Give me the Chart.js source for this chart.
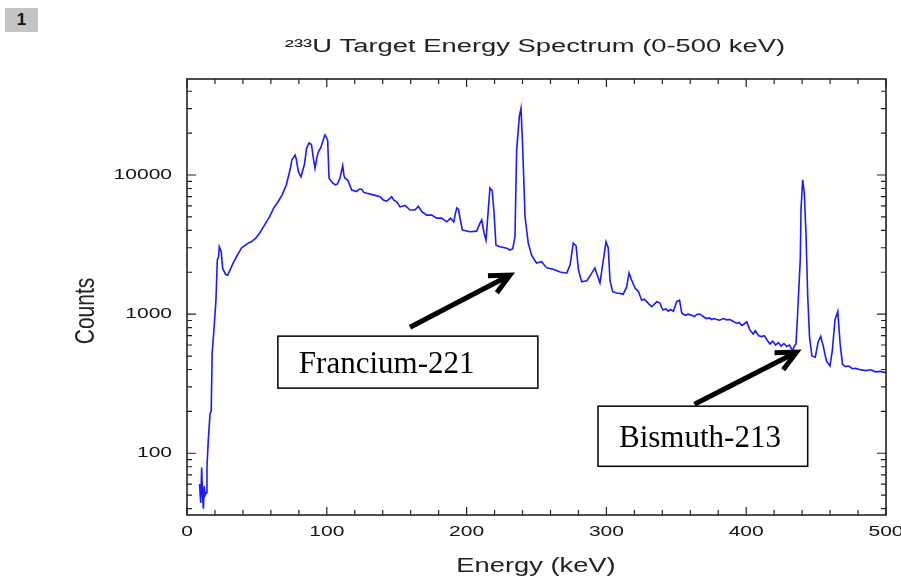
<!DOCTYPE html>
<html>
<head>
<meta charset="utf-8">
<script src="https://cdn.jsdelivr.net/npm/chart.js@4.4.1/dist/chart.umd.min.js"></script>
<style>
    body { margin: 0; background: #fff; }
    #wrap { position: relative; width: 901px; height: 577px; }
    #badge {
        position: absolute; left: 5px; top: 8px; width: 33px; height: 24px;
        background: #c4c4c4; color: #111; font: bold 17px "Liberation Sans", Arial, sans-serif;
        text-align: center; line-height: 24px;
    }
</style>
</head>
<body>
<div id="wrap">
    <canvas id="spectrum" width="901" height="577"></canvas>
    <div id="badge">1</div>
</div>
<script>
// energy (keV) and counts
const energyKeV = [
    9, 9.8, 10.5, 11.2, 11.7, 12.3, 13, 13.8, 14.3, 15.3, 16.5, 17.3, 18, 19.5, 20.7, 21.7, 22.6, 23.1, 24, 24.5,
    25.5, 27.5, 29, 31, 33, 36, 39, 42, 44, 46, 49, 52, 56, 59, 62, 65, 68, 71, 73.7, 75,
    77.3, 78.2, 79.6, 81.5, 84, 85.5, 87.3, 89, 90.5, 91.6, 93, 94, 95.8, 97.5, 98.7, 100.6, 101.6, 104, 106, 107.5,
    109.4, 111.4, 112.2, 113, 115, 117.8, 121.4, 123, 125, 126.5, 128.6, 133.3, 138, 140.4, 142.5, 144, 146.4, 148, 150, 152.4,
    156, 159.5, 163, 165.5, 168, 171.5, 175, 178.6, 182, 185.8, 188.6, 190.8, 192, 193, 194.2, 195.5, 197, 202.4, 207.2, 209.6,
    210.8, 212.5, 213.9, 215.5, 216.7, 218.3, 219.5, 221, 223.9, 228.7, 231, 233, 234.6, 235.8, 237.7, 238.9, 240, 241.8, 244.1, 246.5,
    250, 253.6, 257.3, 262, 266.8, 271.6, 274, 276.3, 278.3, 280, 282.3, 286, 289.5, 291.8, 293, 295.4, 297.8, 299.7, 301.3, 302.6,
    304.5, 307.3, 309.7, 312, 314.5, 316.2, 318, 320.5, 323, 325.2, 327, 328.8, 330.5, 332.4, 334, 336, 338.3, 339.5, 340.6, 342.5,
    344.3, 346, 347.9, 350.3, 352.3, 353.9, 356.3, 358.5, 361, 363, 364.6, 366.5, 368.2, 370, 371.8, 373.5, 375.3, 377, 378.9, 381,
    383.6, 386, 388.4, 390.5, 393.2, 395, 396.8, 398.5, 400.4, 402.7, 405, 406.5, 409, 411, 413, 415, 417, 419, 421, 423,
    425, 427, 429, 431, 433, 434.5, 435.6, 436.8, 438.7, 439.2, 440.4, 441.6, 442.8, 444, 445.3, 447, 449.4, 451.4, 453.3, 455,
    457.4, 459.9, 461.6, 463.5, 465.5, 467.2, 468.9, 471, 473.3, 476, 478.1, 481, 485.4, 489, 492.7, 496, 500
];
const counts = [
    60, 44, 79, 48, 40, 58, 50, 52, 81, 128, 194, 200, 525, 832, 1260, 2450, 2600, 3050, 2900, 2800,
    2140, 1940, 1900, 2100, 2330, 2650, 2990, 3150, 3250, 3310, 3500, 3830, 4460, 5000, 5790, 6400, 7180, 8470, 10860, 12800,
    13900, 13000, 10600, 9720, 11900, 15500, 17000, 16600, 13000, 11200, 13500, 14700, 15800, 18000, 19400, 17900, 9500, 8800, 8500, 8600,
    9500, 11660, 10000, 9500, 9200, 7800, 7600, 7900, 7900, 7500, 7400, 7200, 6980, 6620, 6500, 6620, 6980, 6600, 6420, 5900,
    6050, 5600, 5600, 5950, 5450, 5150, 5150, 4900, 4900, 4610, 4900, 4600, 5300, 5800, 5650, 4750, 4020, 3910, 3950, 4510,
    4750, 3830, 3400, 5600, 8060, 7700, 5600, 3130, 3050, 2980, 2890, 2950, 3600, 15100, 26300, 30200, 17000, 5010, 3240, 2650,
    2330, 2380, 2150, 2100, 2010, 1970, 2250, 3240, 3100, 2080, 1710, 1740, 1970, 2150, 1970, 1680, 2440, 3310, 3000, 1740,
    1450, 1420, 1410, 1390, 1570, 1970, 1760, 1540, 1450, 1260, 1280, 1230, 1180, 1130, 1170, 1230, 1200, 1120, 1070, 1090,
    1050, 1080, 1050, 1230, 1260, 1020, 980, 1000, 980, 960, 995, 1000, 980, 950, 930, 940, 915, 930, 915, 905,
    930, 910, 915, 890, 857, 870, 830, 850, 880, 767, 720, 760, 700, 690, 700, 650, 611, 640, 600, 625,
    590, 615, 585, 600, 546, 590, 611, 1016, 2500, 5660, 9250, 7300, 3710, 1350, 684, 500, 490, 628, 692, 595,
    461, 424, 546, 908, 1046, 611, 436, 420, 424, 405, 408, 400, 393, 398, 385, 388, 380
];

const xTickValues = [0, 100, 200, 300, 400, 500];
const yTickValues = [100, 1000, 10000];

// callouts, anchored in keV / counts
const callouts = [
    { text: "Francium-221", box: [65, 251, 695, 294], tail: [159.5, 805], tip: [231, 1910] },
    { text: "Bismuth-213", box: [294, 444, 218, 80.6], tail: [363, 225], tip: [436, 533] }
];

const points = energyKeV.map((e, i) => ({ x: e, y: counts[i] }));

// the source picture is stretched sideways, so text gets a horizontal factor
function wideText(ctx, text, x, y, sx) {
    ctx.save();
    ctx.translate(x, y);
    ctx.scale(sx, 1);
    ctx.fillText(text, 0, 0);
    ctx.restore();
}

// frame, inward ticks, labels, titles and callouts
const framePlugin = {
    id: "frame",
    afterDraw(chart) {
        const ctx = chart.ctx;
        const a = chart.chartArea;
        const xs = chart.scales.x;
        const ys = chart.scales.y;
        ctx.save();
        ctx.strokeStyle = "#222";
        ctx.lineWidth = 1.6;
        ctx.strokeRect(a.left, a.top, a.right - a.left, a.bottom - a.top);

        ctx.lineWidth = 1.2;
        ctx.beginPath();
        for (let v = 0; v <= 500; v += 20) {
            const px = xs.getPixelForValue(v);
            const len = v % 100 === 0 ? 8 : 5;
            ctx.moveTo(px, a.bottom); ctx.lineTo(px, a.bottom - len);
            ctx.moveTo(px, a.top); ctx.lineTo(px, a.top + len);
        }
        for (let k = 1; k <= 4; k++) {
            for (let m = 1; m <= 9; m++) {
                const v = m * Math.pow(10, k);
                if (v < ys.min || v > ys.max) continue;
                const py = ys.getPixelForValue(v);
                const len = m === 1 ? 9 : 5;
                ctx.moveTo(a.left, py); ctx.lineTo(a.left + len, py);
                ctx.moveTo(a.right, py); ctx.lineTo(a.right - len, py);
            }
        }
        ctx.stroke();

        // tick labels
        ctx.fillStyle = "#111";
        ctx.textBaseline = "middle";
        ctx.font = '15px "Liberation Sans", Arial, sans-serif';
        ctx.textAlign = "center";
        xTickValues.forEach(v => wideText(ctx, String(v), xs.getPixelForValue(v), 532, 1.4));
        ctx.textAlign = "right";
        yTickValues.forEach(v => wideText(ctx, String(v), 172, ys.getPixelForValue(v), 1.4));

        // titles
        ctx.fillStyle = "#222";
        ctx.textAlign = "center";
        ctx.font = '18px "Liberation Sans", Arial, sans-serif';
        wideText(ctx, "\u00B2\u00B3\u00B3U Target Energy Spectrum (0-500 keV)", 535, 47, 1.52);
        ctx.font = '21px "Liberation Sans", Arial, sans-serif';
        wideText(ctx, "Energy (keV)", 536, 566, 1.3);
        ctx.save();
        ctx.translate(86, 311);
        ctx.rotate(-Math.PI / 2);
        ctx.scale(1, 1.3);
        ctx.fillText("Counts", 0, 0);
        ctx.restore();

        // callouts
        callouts.forEach(c => {
            const l = xs.getPixelForValue(c.box[0]);
            const r = xs.getPixelForValue(c.box[1]);
            const t = ys.getPixelForValue(c.box[2]);
            const b = ys.getPixelForValue(c.box[3]);
            ctx.fillStyle = "#fff";
            ctx.fillRect(l, t, r - l, b - t);
            ctx.strokeStyle = "#000";
            ctx.lineWidth = 1.5;
            ctx.strokeRect(l, t, r - l, b - t);
            ctx.fillStyle = "#000";
            ctx.textAlign = "left";
            ctx.font = '31px "Liberation Serif", "Times New Roman", serif';
            ctx.fillText(c.text, l + 21, (t + b) / 2 + 3);

            const x0 = xs.getPixelForValue(c.tail[0]), y0 = ys.getPixelForValue(c.tail[1]);
            const x1 = xs.getPixelForValue(c.tip[0]), y1 = ys.getPixelForValue(c.tip[1]);
            const ang = Math.atan2(y1 - y0, x1 - x0);
            ctx.lineWidth = 5;
            ctx.lineCap = "butt";
            ctx.lineJoin = "miter";
            ctx.beginPath();
            ctx.moveTo(x0, y0);
            ctx.lineTo(x1 - 3 * Math.cos(ang), y1 - 3 * Math.sin(ang));
            ctx.stroke();
            const head = 22, spread = 0.45;
            ctx.beginPath();
            ctx.moveTo(x1 - head * Math.cos(ang - spread), y1 - head * Math.sin(ang - spread));
            ctx.lineTo(x1, y1);
            ctx.lineTo(x1 - head * Math.cos(ang + spread), y1 - head * Math.sin(ang + spread));
            ctx.stroke();
        });
        ctx.restore();
    }
};

new Chart(document.getElementById("spectrum"), {
    type: "line",
    data: {
        datasets: [{
            data: points,
            borderColor: "#1a1aff",
            borderWidth: 1.6,
            pointRadius: 0,
            tension: 0,
            fill: false
        }]
    },
    options: {
        responsive: false,
        animation: false,
        events: [],
        layout: { padding: { left: 73, right: 15, top: 79, bottom: 0 } },
        plugins: {
            legend: { display: false },
            tooltip: { enabled: false }
        },
        scales: {
            x: {
                type: "linear",
                min: 0,
                max: 500,
                grid: { display: false },
                border: { display: false },
                ticks: { display: false },
                afterFit: scale => {
                    scale.height = 62;
                    scale.paddingLeft = 0;
                    scale.paddingRight = 0;
                }
            },
            y: {
                type: "logarithmic",
                min: 36,
                max: 49000,
                grid: { display: false },
                border: { display: false },
                ticks: { display: false },
                afterFit: scale => {
                    scale.width = 114;
                    scale.paddingTop = 0;
                    scale.paddingBottom = 0;
                }
            }
        }
    },
    plugins: [framePlugin]
});
</script>
</body>
</html>
